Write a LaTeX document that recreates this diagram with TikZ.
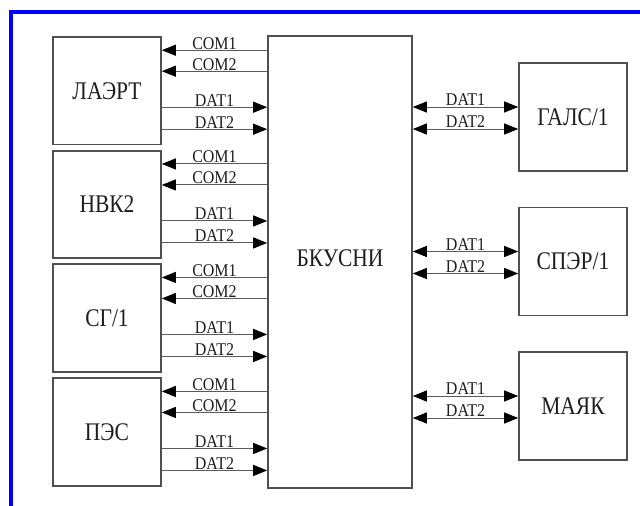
\documentclass[tikz,border=0pt]{standalone}
\usepackage{fontspec}
\usepackage{graphicx}
\setmainfont{Liberation Serif}
\usetikzlibrary{arrows.meta,calc}
\definecolor{boxline}{RGB}{80,80,80}
\definecolor{conline}{RGB}{90,90,90}
\definecolor{txt}{RGB}{30,30,30}
\newcommand\tallsm[1]{\scalebox{1}[1.12]{#1}}
\newcommand\tallbg[1]{\scalebox{1}[1.18]{#1}}
\tikzset{
  blk/.style={draw=boxline, line width=1.6pt, minimum width=108pt, minimum height=107.5pt, inner sep=0pt, text=txt, font=\fontsize{21.5}{24}\selectfont},
  conn/.style={draw=conline, line width=1pt},
  tipR/.style={-{Triangle[length=14pt,width=11pt,color=black]}},
  tipB/.style={{Triangle[length=14pt,width=11pt,color=black]}-{Triangle[length=14pt,width=11pt,color=black]}},
  lbl/.style={text=txt, font=\fontsize{16}{18}\selectfont, inner sep=0.5pt, anchor=south}
}
\begin{document}
\begin{tikzpicture}[x=1pt,y=-1pt]
\useasboundingbox (0,0) rectangle (640,506);
\fill[white] (0,0) rectangle (640,506);
\draw[blue, line width=3.8pt] (11,506) -- (11,12.3) -- (640,12.3);
% central block
\node[blk, minimum width=144pt, minimum height=452pt] (bk) at (340,262) {};
\node[text=txt, font=\fontsize{21.5}{24}\selectfont] (bkt) at (340,258) {\tallbg{БКУСНИ}};
% left blocks
\node[blk] (l1) at (107,90.75) {\tallbg{ЛАЭРТ}};
\node[blk] (l2) at (107,204.5) {\tallbg{НВК2}};
\node[blk] (l3) at (107,318) {\tallbg{СГ/1}};
\node[blk] (l4) at (107,432) {\tallbg{ПЭС}};
% right blocks
\node[blk, minimum height=108pt] (r1) at (573,117) {\tallbg{ГАЛС/1}};
\node[blk, minimum height=108pt] (r2) at (573,261.5) {\tallbg{СПЭР/1}};
\node[blk, minimum height=108pt] (r3) at (573,406) {\tallbg{МАЯК}};
% left connectors
\foreach \b in {l1,l2,l3,l4}{
  \coordinate (\b c1) at ([yshift=-14pt]\b.north east);
  \coordinate (\b c2) at ([yshift=-35pt]\b.north east);
  \coordinate (\b d1) at ([yshift=-71pt]\b.north east);
  \coordinate (\b d2) at ([yshift=-93pt]\b.north east);
  \draw[conn,tipR] (bk.west |- \b c1) -- (\b c1) node[lbl, pos=0.5] {\tallsm{COM1}};
  \draw[conn,tipR] (bk.west |- \b c2) -- (\b c2) node[lbl, pos=0.5] {\tallsm{COM2}};
  \draw[conn,tipR] (\b d1) -- (bk.west |- \b d1) node[lbl, pos=0.5] {\tallsm{DAT1}};
  \draw[conn,tipR] (\b d2) -- (bk.west |- \b d2) node[lbl, pos=0.5] {\tallsm{DAT2}};
}
% right connectors
\foreach \b in {r1,r2,r3}{
  \coordinate (\b d1) at ([yshift=10pt]\b.west);
  \coordinate (\b d2) at ([yshift=-12pt]\b.west);
  \draw[conn,tipB] (bk.east |- \b d1) -- (\b d1) node[lbl, pos=0.5] {\tallsm{DAT1}};
  \draw[conn,tipB] (bk.east |- \b d2) -- (\b d2) node[lbl, pos=0.5] {\tallsm{DAT2}};
}
\end{tikzpicture}
\end{document}
